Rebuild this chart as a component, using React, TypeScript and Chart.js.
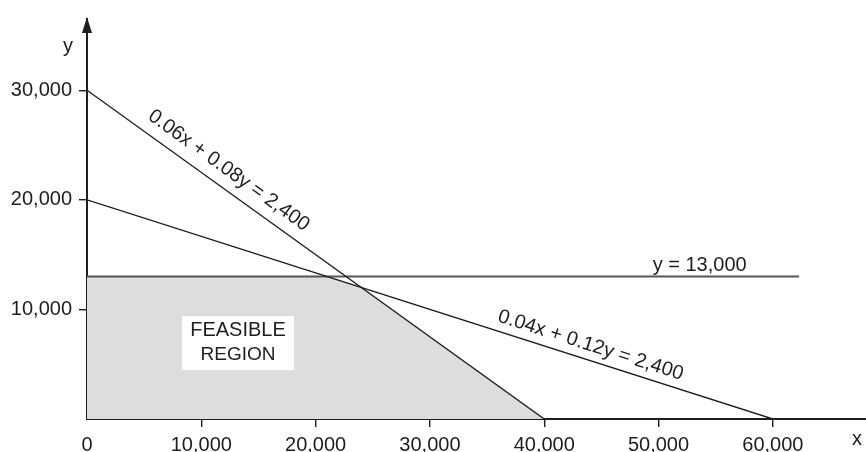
import { useEffect, useRef } from 'react';
import { Chart, registerables } from 'chart.js';

Chart.register(...registerables);

// Axis ticks
const xTicks = [0, 10000, 20000, 30000, 40000, 50000, 60000];
const yTicks = [10000, 20000, 30000];
const xMax = 68150;
const yMax = 36500;

// Constraint lines (endpoints)
const lineA = [{ x: 0, y: 30000 }, { x: 40000, y: 0 }]; // 0.06x + 0.08y = 2,400
const lineB = [{ x: 0, y: 20000 }, { x: 60000, y: 0 }]; // 0.04x + 0.12y = 2,400
const lineC = [{ x: 0, y: 13000 }, { x: 62300, y: 13000 }]; // y = 13,000

// Feasible region vertices (upper boundary, filled to y = 0)
const feasible = [
  { x: 0, y: 13000 },
  { x: 21000, y: 13000 },
  { x: 24000, y: 12000 },
  { x: 40000, y: 0 },
];

const labelA = '0.06x + 0.08y = 2,400';
const labelB = '0.04x + 0.12y = 2,400';
const labelC = 'y = 13,000';
const regionText = ['FEASIBLE', 'REGION'];

const FONT = "'Liberation Sans', Arial, Helvetica, sans-serif";
const INK = '#1e1e1e';

export default function App() {
  const ref = useRef<HTMLCanvasElement | null>(null);

  useEffect(() => {
    if (!ref.current) return;

    const annot = {
      id: 'annot',
      afterDraw(chart: any) {
        const ctx = chart.ctx as CanvasRenderingContext2D;
        const xs = chart.scales.x;
        const ys = chart.scales.y;
        const area = chart.chartArea;
        const px = (v: number) => xs.getPixelForValue(v);
        const py = (v: number) => ys.getPixelForValue(v);

        ctx.save();
        ctx.fillStyle = INK;

        // arrow head on y axis
        const ax = area.left;
        ctx.beginPath();
        ctx.moveTo(ax, area.top - 2);
        ctx.lineTo(ax - 5, area.top + 14);
        ctx.lineTo(ax + 5, area.top + 14);
        ctx.closePath();
        ctx.fill();

        // axis names
        ctx.font = `20px ${FONT}`;
        ctx.textAlign = 'center';
        ctx.textBaseline = 'alphabetic';
        ctx.fillText('y', ax - 19, area.top + 33);
        ctx.fillText('x', 857, area.bottom + 26);

        // labels along lines
        const along = (pts: { x: number; y: number }[], atX: number, off: number, text: string) => {
          const p0 = { x: px(pts[0].x), y: py(pts[0].y) };
          const p1 = { x: px(pts[1].x), y: py(pts[1].y) };
          const ang = Math.atan2(p1.y - p0.y, p1.x - p0.x);
          const t = (atX - pts[0].x) / (pts[1].x - pts[0].x);
          const lx = p0.x + t * (p1.x - p0.x);
          const ly = p0.y + t * (p1.y - p0.y);
          const cx = lx + Math.sin(ang) * off;
          const cy = ly - Math.cos(ang) * off;
          ctx.save();
          ctx.translate(cx, cy);
          ctx.rotate(ang);
          ctx.textAlign = 'center';
          ctx.textBaseline = 'middle';
          ctx.fillText(text, 0, 0);
          ctx.restore();
        };
        along(lineA, 11500, 17.5, labelA);
        along(lineB, 43670, 14.6, labelB);

        // y = 13,000 label
        ctx.textAlign = 'center';
        ctx.textBaseline = 'alphabetic';
        ctx.fillText(labelC, px(53600), py(13000) - 6);

        // feasible region box
        const bx = px(13210);
        const by = py(6920);
        ctx.fillStyle = '#ffffff';
        ctx.fillRect(bx - 56, by - 27, 112, 54);
        ctx.fillStyle = INK;
        ctx.textBaseline = 'middle';
        ctx.font = `20px ${FONT}`;
        ctx.fillText(regionText[0], bx, by - 13);
        ctx.font = `19px ${FONT}`;
        ctx.fillText(regionText[1], bx, by + 12);

        ctx.restore();
      },
    };

    const fmt = (v: number) => Number(v).toLocaleString('en-US');

    const chart = new Chart(ref.current, {
      type: 'line',
      data: {
        datasets: [
          {
            data: lineA,
            borderColor: INK,
            borderWidth: 1.4,
            pointRadius: 0,
            fill: false,
            order: 0,
          },
          {
            data: lineB,
            borderColor: INK,
            borderWidth: 1.4,
            pointRadius: 0,
            fill: false,
            order: 0,
          },
          {
            data: lineC,
            borderColor: '#555555',
            borderWidth: 2,
            pointRadius: 0,
            fill: false,
            order: 0,
          },
          {
            data: feasible,
            borderWidth: 0,
            borderColor: 'rgba(0,0,0,0)',
            backgroundColor: '#dddddd',
            pointRadius: 0,
            fill: 'origin',
            order: 5,
          },
        ],
      },
      options: {
        animation: false,
        responsive: false,
        parsing: false,
        layout: { padding: { top: 14, left: 0, right: 0, bottom: 0 } },
        plugins: {
          legend: { display: false },
          tooltip: { enabled: false },
        },
        scales: {
          x: {
            type: 'linear',
            min: 0,
            max: xMax,
            z: 1,
            afterBuildTicks: (s: any) => {
              s.ticks = xTicks.map((v) => ({ value: v }));
            },
            afterFit: (s: any) => {
              s.height = 33;
            },
            border: { display: true, color: INK, width: 2 },
            grid: {
              drawOnChartArea: false,
              drawTicks: true,
              tickLength: 8,
              lineWidth: 1.4,
              color: (c: any) => (c.tick && c.tick.value === 0 ? 'rgba(0,0,0,0)' : INK),
            },
            ticks: {
              autoSkip: false,
              maxRotation: 0,
              padding: 6,
              color: INK,
              font: { family: FONT, size: 20 },
              callback: (v: any) => fmt(v),
            },
          },
          y: {
            type: 'linear',
            min: 0,
            max: yMax,
            z: 1,
            afterBuildTicks: (s: any) => {
              s.ticks = yTicks.map((v) => ({ value: v }));
            },
            afterFit: (s: any) => {
              s.width = 87;
            },
            border: { display: true, color: INK, width: 2 },
            grid: {
              drawOnChartArea: false,
              drawTicks: true,
              tickLength: 8,
              lineWidth: 1.4,
              color: INK,
            },
            ticks: {
              autoSkip: false,
              padding: 7,
              color: INK,
              font: { family: FONT, size: 20 },
              callback: (v: any) => fmt(v),
            },
          },
        },
      },
      plugins: [annot],
    } as any);

    return () => chart.destroy();
  }, []);

  return (
    <div style={{ position: 'absolute', left: 0, top: 0, width: 866, height: 452, background: '#ffffff' }}>
      <canvas ref={ref} width={866} height={452} style={{ display: 'block', width: 866, height: 452 }} />
    </div>
  );
}
